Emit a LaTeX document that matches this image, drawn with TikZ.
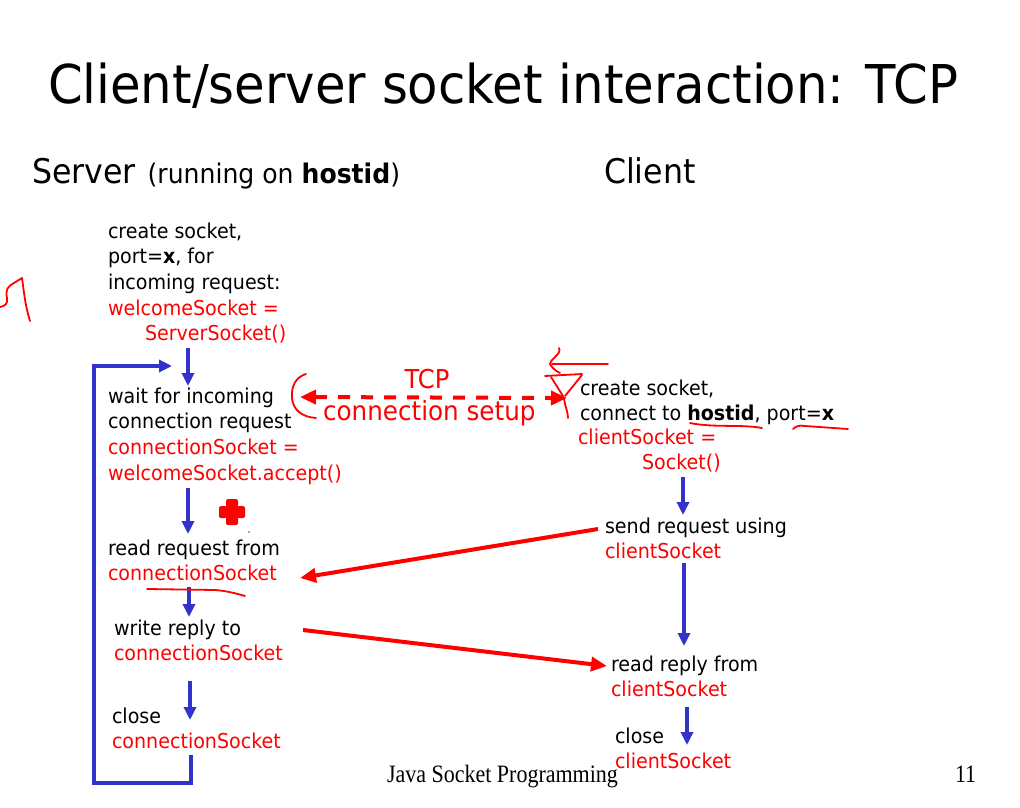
\documentclass[tikz,border=0pt]{standalone}
\usepackage{fontspec}
\setmainfont{DejaVu Sans}[FakeStretch=0.93]
\newfontfamily\footfont{Liberation Serif}[FakeStretch=0.88]
\usetikzlibrary{arrows.meta}
\definecolor{slred}{RGB}{255,0,0}
\definecolor{slblue}{RGB}{51,51,204}
% a block of lines whose baseline is the first line's baseline
\newcommand\lines[1]{\vtop{#1}}
\newcommand\redline[1]{\hbox{\color{slred}#1}}

\begin{document}
\begin{tikzpicture}[x=1pt,y=-1pt,
  txt/.style={anchor=base west,inner sep=0pt,outer sep=0pt,font=\fontsize{20.5}{25.7}\selectfont},
  head/.style={anchor=base west,inner sep=0pt,outer sep=0pt},
  flow/.style={draw=slblue,line width=3.5pt,-{Triangle[length=13pt,width=12pt]}},
  loopback/.style={draw=slblue,line width=3.5pt,line join=miter,-{Triangle[length=13pt,width=12pt]}},
  msg/.style={draw=slred,line width=4pt,-{Triangle[length=16pt,width=14pt]}},
  setup/.style={draw=slred,line width=4pt,dash pattern=on 12pt off 11pt,
    {Triangle[length=16pt,width=14pt]}-{Triangle[length=16pt,width=14pt]}},
  ink/.style={draw=slred,line width=1.8pt,line cap=round,line join=round}]

\fill[white] (0,0) rectangle (1020,808);
\useasboundingbox (0,0) rectangle (1020,808);

% headings
\node[head,font=\fontsize{53.5}{60}\selectfont] (title) at (48,103) {Client/server socket interaction: TCP};
\node[head] (server) at (32,183) {{\fontsize{34}{40}\selectfont Server}\hspace{12pt}{\fontsize{27}{32}\selectfont (running on \textbf{hostid})}};
\node[head,font=\fontsize{34}{40}\selectfont] (client) at (604,183) {Client};

% server side
\node[txt] (s1) at (108,238) {\lines{\hbox{create socket,}\hbox{port=\textbf{x}, for}\hbox{incoming request:}\redline{welcomeSocket =}\redline{\hspace*{37pt}ServerSocket()}}};
\node[txt] (s2) at (108,403) {\lines{\hbox{wait for incoming}\hbox{connection request}\redline{connectionSocket =}\redline{welcomeSocket.accept()}}};
\node[txt] (s3) at (108,555) {\lines{\hbox{read request from}\redline{connectionSocket}}};
\node[txt] (s4) at (114,635) {\lines{\hbox{write reply to}\redline{connectionSocket}}};
\node[txt] (s5) at (112,723) {\lines{\hbox{close}\redline{connectionSocket}}};

% client side
\node[txt] (c1) at (580,395) {\lines{\hbox{create socket,}\hbox{connect to \textbf{hostid}, port=\textbf{x}}}};
\node[txt] (c1b) at (578,444) {\lines{\redline{clientSocket =}\redline{\hspace*{64pt}Socket()}}};
\node[txt] (c2) at (605,533) {\lines{\hbox{send request using}\redline{clientSocket}}};
\node[txt] (c3) at (611,671) {\lines{\hbox{read reply from}\redline{clientSocket}}};
\node[txt] (c4) at (615,743) {\lines{\hbox{close}\redline{clientSocket}}};

% connection setup label
\node[head,anchor=base,text=slred,font=\fontsize{26}{30}\selectfont] (tcp) at (427,388) {TCP};
\node[head,text=slred,font=\fontsize{26.5}{30}\selectfont] (tcpsetup) at (323,420) {connection setup};

% footer
\node[head,font=\footfont\fontsize{25}{28}\selectfont] (foot) at (387,782) {Java Socket Programming};
\node[head,font=\footfont\fontsize{25}{28}\selectfont] (page) at (955,782) {11};

% server flow
\draw[flow] ([xshift=80pt,yshift=-110pt]s1.base west) -- ([xshift=80pt,yshift=17pt]s2.base west);
\draw[flow] ([xshift=80pt,yshift=-85pt]s2.base west) -- ([xshift=80pt,yshift=21pt]s3.base west);
\draw[flow] ([xshift=81pt,yshift=-32pt]s3.base west) -- ([xshift=75pt,yshift=18pt]s4.base west);
\draw[flow] ([xshift=76pt,yshift=-46pt]s4.base west) -- ([xshift=78pt,yshift=3pt]s5.base west);
\coordinate (loopcorner) at (94,783);
\coordinate (loopin) at (172,366);
\draw[loopback] ([xshift=79pt,yshift=-32pt]s5.base west) |- (loopcorner) |- (loopin);

% client flow
\draw[flow] ([xshift=105pt,yshift=-33pt]c1b.base west) -- ([xshift=78pt,yshift=18pt]c2.base west);
\draw[flow] ([xshift=79pt,yshift=-30pt]c2.base west) -- ([xshift=73pt,yshift=25pt]c3.base west);
\draw[flow] ([xshift=76pt,yshift=-36pt]c3.base west) -- ([xshift=72pt,yshift=-2pt]c4.base west);

% messages between the two sides
\draw[setup] ([xshift=192pt,yshift=6pt]s2.base west) -- ([xshift=-13pt,yshift=-3pt]c1.base west);
\draw[msg] ([xshift=-7pt,yshift=4pt]c2.base west) -- ([xshift=192pt,yshift=-23pt]s3.base west);
\draw[msg] ([xshift=189pt,yshift=5pt]s4.base west) -- ([xshift=-4pt,yshift=5pt]c3.base west);

% hand-drawn pen marks
\draw[ink] (0,307) .. controls (5,306) and (8,304) .. (7,298) .. controls (5,290) and (8,286) .. (14,283) -- (22,278) .. controls (24,292) and (25,305) .. (30,321);
\draw[ink] (306,374) .. controls (296,377) and (291,386) .. (292,398) .. controls (293,410) and (302,417) .. (316,418);
\draw[ink] (559,348) .. controls (562,354) and (551,358) .. (550,364) .. controls (552,368) and (556,371) .. (560,373);
\draw[ink] (552,364) -- (608,364);
\draw[ink] (545,376) -- (582,374);
\draw[ink] (551,377) -- (563,396);
\draw[ink] (582,375) -- (565,396);
\draw[ink] (564,399) .. controls (565,406) and (568,412) .. (568,418);
\draw[ink] (690,423) .. controls (715,428) and (740,424) .. (762,428);
\draw[ink] (793,429) .. controls (796,426) and (800,425) .. (805,426) -- (848,429);
\draw[ink] (147,589) -- (215,590) .. controls (228,591) and (238,594) .. (245,596);
\fill[slred,rounded corners=1.5pt] (226,499) rectangle (238,525);
\fill[slred,rounded corners=1.5pt] (219,506) rectangle (245,518);
\fill[slred] (249,532) circle (0.8pt);
\end{tikzpicture}
\end{document}
